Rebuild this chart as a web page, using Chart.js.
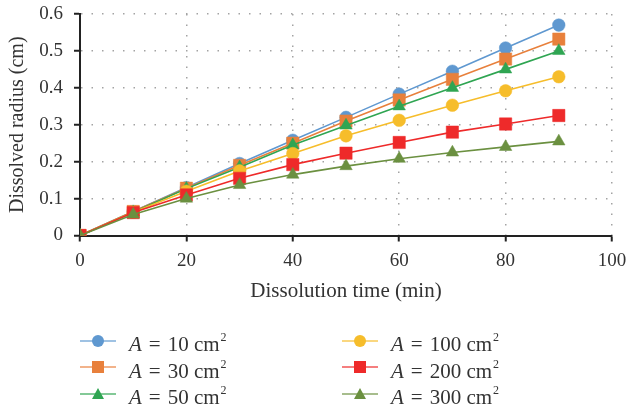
<!DOCTYPE html>
<html>
<head>
<meta charset="utf-8">
<script src="https://cdn.jsdelivr.net/npm/chart.js@4/dist/chart.umd.min.js"></script>
<style>
  html, body { margin: 0; padding: 0; background: #fff; }
  #wrap { position: relative; width: 628px; height: 406px; }
  #chart { position: absolute; left: 0; top: 0; }
  .leg { position: absolute; height: 26px; display: flex; align-items: center;
         font-family: "Liberation Serif", serif; font-size: 21px; color: #333; white-space: nowrap; }
  .leg svg { margin-right: 13px; flex: none; }
  .leg .txt { position: relative; top: 4px; }
  .leg i { font-style: italic; }
  .leg .eq { margin: 0 7px; }
  .leg sup { font-size: 12px; vertical-align: baseline; position: relative; top: -10px; margin-left: 1px; }
</style>
</head>
<body>
<div id="wrap">
  <canvas id="chart" width="628" height="406"></canvas>
  <div id="legend"></div>
</div>
<script>
const times = [0, 10, 20, 30, 40, 50, 60, 70, 80, 90];
const areas = [10, 30, 50, 100, 200, 300];
const radius10 = [0, 0.065, 0.130, 0.195, 0.258, 0.320, 0.383, 0.445, 0.508, 0.570];
const radius30 = [0, 0.065, 0.128, 0.190, 0.250, 0.310, 0.367, 0.423, 0.478, 0.532];
const radius50 = [0, 0.063, 0.127, 0.185, 0.245, 0.298, 0.350, 0.400, 0.450, 0.500];
const radius100 = [0, 0.063, 0.120, 0.175, 0.222, 0.270, 0.312, 0.353, 0.392, 0.430];
const radius200 = [0, 0.062, 0.110, 0.155, 0.192, 0.223, 0.252, 0.280, 0.302, 0.325];
const radius300 = [0, 0.057, 0.100, 0.137, 0.165, 0.188, 0.208, 0.225, 0.240, 0.255];
const yTicks = [0, 0.1, 0.2, 0.3, 0.4, 0.5, 0.6];
const xTicks = [0, 20, 40, 60, 80, 100];

const seriesValues = [radius10, radius30, radius50, radius100, radius200, radius300];
const colors = ['#5f98d0', '#e8803c', '#2fa552', '#f6bd2b', '#ee2a2a', '#6b9040'];
const shapes = ['circle', 'rect', 'triangle', 'circle', 'rect', 'triangle'];
const sizes = { circle: 6.3, rect: 8.7, triangle: 7.2 };

const serif = '"Liberation Serif", serif';
const textColor = '#333';

const datasets = seriesValues.map((vals, i) => ({
  label: 'A = ' + areas[i] + ' cm²',
  data: vals.map((v, j) => ({ x: times[j], y: v })),
  borderColor: colors[i],
  backgroundColor: colors[i],
  pointBackgroundColor: colors[i],
  pointBorderColor: colors[i],
  pointBorderWidth: 0.5,
  pointStyle: shapes[i],
  pointRadius: sizes[shapes[i]],
  borderWidth: 1.6,
  tension: 0,
  order: 6 - i,
}));

new Chart(document.getElementById('chart'), {
  type: 'line',
  data: { datasets },
  options: {
    responsive: false,
    animation: false,
    layout: { padding: { top: 14, right: 16, bottom: 101.5, left: 0 } },
    plugins: { legend: { display: false }, tooltip: { enabled: false } },
    scales: {
      x: {
        type: 'linear',
        min: 0,
        max: 100,
        afterBuildTicks: (scale) => { scale.ticks = xTicks.map(v => ({ value: v })); },
        afterFit: (scale) => { scale.height = 69; scale.paddingRight = 0; scale.paddingLeft = 0; },
        ticks: { font: { family: serif, size: 19 }, color: textColor, padding: 8 },
        grid: { color: '#a3a3a3', lineWidth: 1.5, tickColor: '#222', tickWidth: 2, tickLength: 6 },
        border: { display: true, color: '#222', width: 2, dash: [1.5, 9] },
        title: { display: true, text: 'Dissolution time (min)', font: { family: serif, size: 21 },
                 color: textColor, padding: { top: 0, bottom: 0 } },
      },
      y: {
        min: 0,
        max: 0.6,
        afterBuildTicks: (scale) => { scale.ticks = yTicks.map(v => ({ value: v })); },
        afterFit: (scale) => { scale.width = 80; scale.paddingTop = 0; scale.paddingBottom = 0; },
        ticks: { font: { family: serif, size: 19 }, color: textColor, padding: 11,
                 callback: (v) => v === 0 ? '0' : v.toFixed(1) },
        grid: { color: '#a3a3a3', lineWidth: 1.5, tickColor: '#222', tickWidth: 2, tickLength: 6 },
        border: { display: true, color: '#222', width: 2, dash: [1.5, 9] },
        title: { display: true, text: 'Dissolved radius (cm)', font: { family: serif, size: 20 },
                 color: textColor, padding: { top: 5.5, bottom: 0 } },
      },
    },
  },
});

// legend, two columns of three
function markerSvg(shape, color) {
  let mark = '';
  if (shape === 'circle') mark = `<circle cx="18" cy="7" r="6" fill="${color}"/>`;
  if (shape === 'rect') mark = `<rect x="12" y="1" width="12" height="12" fill="${color}"/>`;
  if (shape === 'triangle') mark = `<polygon points="18,1 24,12 12,12" fill="${color}"/>`;
  return `<svg width="36" height="14"><line x1="0" y1="7" x2="36" y2="7" stroke="${color}" stroke-width="1.5" opacity="0.8"/>${mark}</svg>`;
}

const legend = document.getElementById('legend');
areas.forEach((a, i) => {
  const item = document.createElement('div');
  item.className = 'leg';
  const col = Math.floor(i / 3), row = i % 3;
  item.style.left = (col === 0 ? 80 : 342) + 'px';
  item.style.top = (327.5 + row * 26.5) + 'px';
  item.innerHTML = markerSvg(shapes[i], colors[i]) +
    `<span class="txt"><i>A</i><span class="eq">=</span>${a} cm<sup>2</sup></span>`;
  legend.appendChild(item);
});
</script>
</body>
</html>
